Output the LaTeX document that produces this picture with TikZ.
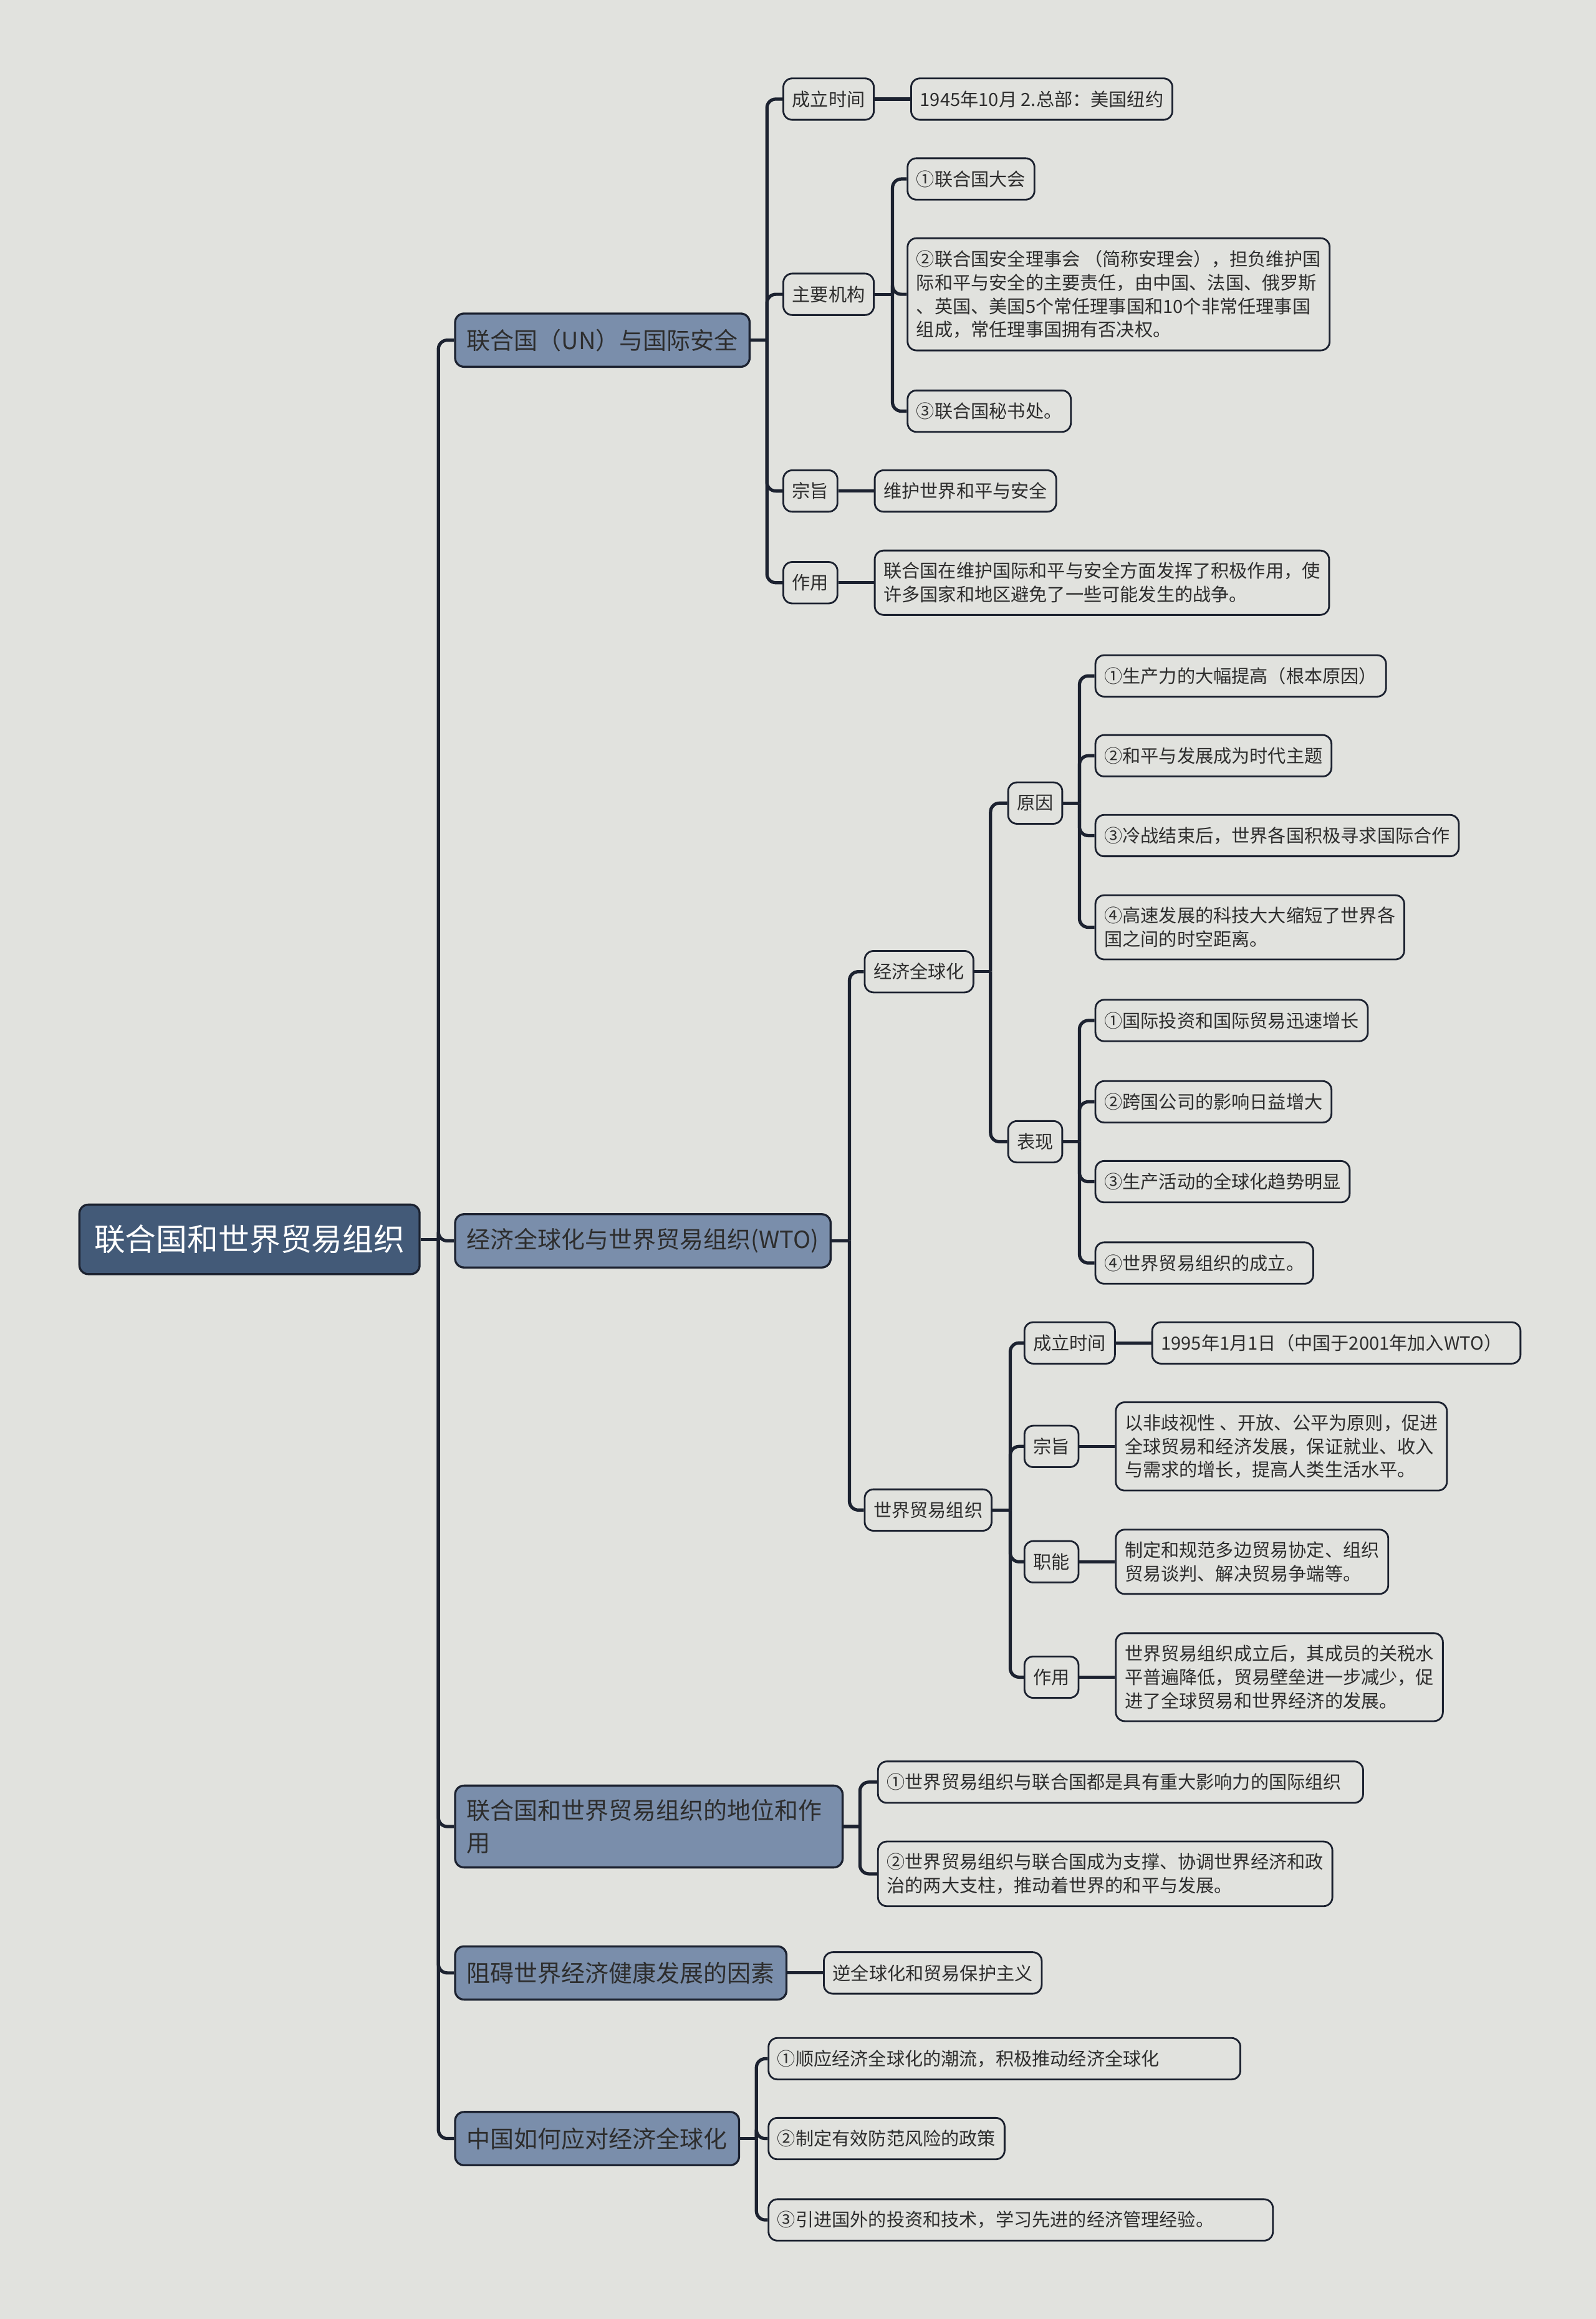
\documentclass[tikz,border=0pt]{standalone}
\usepackage{fontspec}
\setmainfont{Noto Sans CJK SC}
\usepackage{tikz}
\usetikzlibrary{positioning}
\definecolor{bgc}{RGB}{225,226,222}
\definecolor{linec}{RGB}{28,34,48}
\definecolor{rootc}{RGB}{67,90,120}
\definecolor{topicc}{RGB}{122,142,171}
\definecolor{txtc}{RGB}{45,45,45}

\begin{document}
\begin{tikzpicture}[x=0.5pt, y=-0.5pt,
    every node/.style={font=\fontsize{6.15pt}{8pt}\selectfont, text=txtc},
    rootbox/.style={draw=linec, line width=0.7pt, fill=rootc, rounded corners=3pt, text=white,
      font=\fontsize{10.5pt}{13pt}\selectfont, inner xsep=5pt, minimum height=23.5pt, anchor=west},
    topic/.style={draw=linec, line width=0.7pt, fill=topicc, rounded corners=3pt,
      font=\fontsize{8pt}{11pt}\selectfont, inner xsep=4pt, inner ysep=4.6pt,
      minimum height=18pt, align=left, anchor=west},
    leaf/.style={draw=linec, line width=0.6pt, fill=bgc, rounded corners=3pt,
      inner xsep=3pt, inner ysep=4pt, minimum height=14pt, align=left, anchor=west},
    link/.style={draw=linec, line width=1.1pt, rounded corners=3pt}]

    \fill[bgc] (0,0) rectangle (1079,1568);
    \useasboundingbox (0,0) rectangle (1079,1568);

    % root and main topics
    \node [rootbox] (root) at (53,838) {联合国和世界贸易组织};
    \node [topic] (un) at (307,230) {联合国（UN）与国际安全};
    \node [topic] (wto) at (307,839) {经济全球化与世界贸易组织(WTO)};
    \node [topic, text width=123pt] (role) at (307,1235) {联合国和世界贸易组织的地位和作\\用};
    \node [topic] (barrier) at (307,1334) {阻碍世界经济健康发展的因素};
    \node [topic] (china) at (307,1446) {中国如何应对经济全球化};

    % UN branch
    \node [leaf] (untime) at (529,67) {成立时间};
    \node [leaf, right=12pt of untime] (untimev) {1945年10月 2.总部：美国纽约};
    \node [leaf] (unorg) at (529,199) {主要机构};
    \node [leaf] (unga) at (613,121) {①联合国大会};
    \node [leaf] (unsc) at (613,199) {②联合国安全理事会 （简称安理会），担负维护国\\际和平与安全的主要责任，由中国、法国、俄罗斯\\、英国、美国5个常任理事国和10个非常任理事国\\组成，常任理事国拥有否决权。};
    \node [leaf] (unsec) at (613,278) {③联合国秘书处。};
    \node [leaf] (unaim) at (529,332) {宗旨};
    \node [leaf, right=12pt of unaim] (unaimv) {维护世界和平与安全};
    \node [leaf] (unuse) at (529,394) {作用};
    \node [leaf, right=12pt of unuse] (unusev) {联合国在维护国际和平与安全方面发挥了积极作用，使\\许多国家和地区避免了一些可能发生的战争。};

    % globalization branch
    \node [leaf] (glob) at (584,657) {经济全球化};
    \node [leaf] (cause) at (681,543) {原因};
    \node [leaf] (c1) at (740,457) {①生产力的大幅提高（根本原因）};
    \node [leaf] (c2) at (740,511) {②和平与发展成为时代主题};
    \node [leaf] (c3) at (740,565) {③冷战结束后，世界各国积极寻求国际合作};
    \node [leaf] (c4) at (740,627) {④高速发展的科技大大缩短了世界各\\国之间的时空距离。};
    \node [leaf] (show) at (681,772) {表现};
    \node [leaf] (s1) at (740,690) {①国际投资和国际贸易迅速增长};
    \node [leaf] (s2) at (740,745) {②跨国公司的影响日益增大};
    \node [leaf] (s3) at (740,799) {③生产活动的全球化趋势明显};
    \node [leaf] (s4) at (740,854) {④世界贸易组织的成立。};

    % WTO branch
    \node [leaf] (wtoorg) at (584,1021) {世界贸易组织};
    \node [leaf] (wtime) at (692,908) {成立时间};
    \node [leaf, right=12pt of wtime, text width=118.5pt] (wtimev) {1995年1月1日（中国于2001年加入WTO）};
    \node [leaf] (waim) at (692,978) {宗旨};
    \node [leaf, right=12pt of waim] (waimv) {以非歧视性 、开放、公平为原则，促进\\全球贸易和经济发展，保证就业、收入\\与需求的增长，提高人类生活水平。};
    \node [leaf] (wfunc) at (692,1056) {职能};
    \node [leaf, right=12pt of wfunc] (wfuncv) {制定和规范多边贸易协定、组织\\贸易谈判、解决贸易争端等。};
    \node [leaf] (wuse) at (692,1134) {作用};
    \node [leaf, right=12pt of wuse] (wusev) {世界贸易组织成立后，其成员的关税水\\平普遍降低，贸易壁垒进一步减少，促\\进了全球贸易和世界经济的发展。};

    % role, barrier, china
    \node [leaf, text width=158pt] (r1) at (593,1205) {①世界贸易组织与联合国都是具有重大影响力的国际组织};
    \node [leaf] (r2) at (593,1267) {②世界贸易组织与联合国成为支撑、协调世界经济和政\\治的两大支柱，推动着世界的和平与发展。};
    \node [leaf, right=12pt of barrier] (bval) {逆全球化和贸易保护主义};
    \node [leaf, text width=153.5pt] (h1) at (519,1392) {①顺应经济全球化的潮流，积极推动经济全球化};
    \node [leaf] (h2) at (519,1446) {②制定有效防范风险的政策};
    \node [leaf, text width=164.5pt] (h3) at (519,1501) {③引进国外的投资和技术，学习先进的经济管理经验。};

    % junctions
    \coordinate (rootj) at ([xshift=6pt]root.east);
    \coordinate (unj) at ([xshift=5.5pt]un.east);
    \coordinate (orgj) at ([xshift=6pt]unorg.east);
    \coordinate (wtoj) at ([xshift=6pt]wto.east);
    \coordinate (globj) at ([xshift=5.5pt]glob.east);
    \coordinate (causej) at ([xshift=5.5pt]cause.east);
    \coordinate (showj) at ([xshift=5.5pt]show.east);
    \coordinate (wtoorgj) at ([xshift=6pt]wtoorg.east);
    \coordinate (rolej) at ([xshift=5.5pt]role.east);
    \coordinate (chinaj) at ([xshift=5.5pt]china.east);

    % connectors
    \draw[link] (root.east) -- (rootj);
    \foreach \t in {un,wto,role,barrier,china} \draw[link] (rootj) |- (\t.west);
    \draw[link] (un.east) -- (unj);
    \foreach \t in {untime,unorg,unaim,unuse} \draw[link] (unj) |- (\t.west);
    \draw[link] (unorg.east) -- (orgj);
    \foreach \t in {unga,unsc,unsec} \draw[link] (orgj) |- (\t.west);
    \draw[link] (wto.east) -- (wtoj);
    \foreach \t in {glob,wtoorg} \draw[link] (wtoj) |- (\t.west);
    \draw[link] (glob.east) -- (globj);
    \foreach \t in {cause,show} \draw[link] (globj) |- (\t.west);
    \draw[link] (cause.east) -- (causej);
    \foreach \t in {c1,c2,c3,c4} \draw[link] (causej) |- (\t.west);
    \draw[link] (show.east) -- (showj);
    \foreach \t in {s1,s2,s3,s4} \draw[link] (showj) |- (\t.west);
    \draw[link] (wtoorg.east) -- (wtoorgj);
    \foreach \t in {wtime,waim,wfunc,wuse} \draw[link] (wtoorgj) |- (\t.west);
    \draw[link] (role.east) -- (rolej);
    \foreach \t in {r1,r2} \draw[link] (rolej) |- (\t.west);
    \draw[link] (china.east) -- (chinaj);
    \foreach \t in {h1,h2,h3} \draw[link] (chinaj) |- (\t.west);
    \foreach \a/\b in {untime/untimev,unaim/unaimv,unuse/unusev,wtime/wtimev,waim/waimv,wfunc/wfuncv,wuse/wusev,barrier/bval}
      \draw[link] (\a.east) -- (\b.west);
\end{tikzpicture}
\end{document}
